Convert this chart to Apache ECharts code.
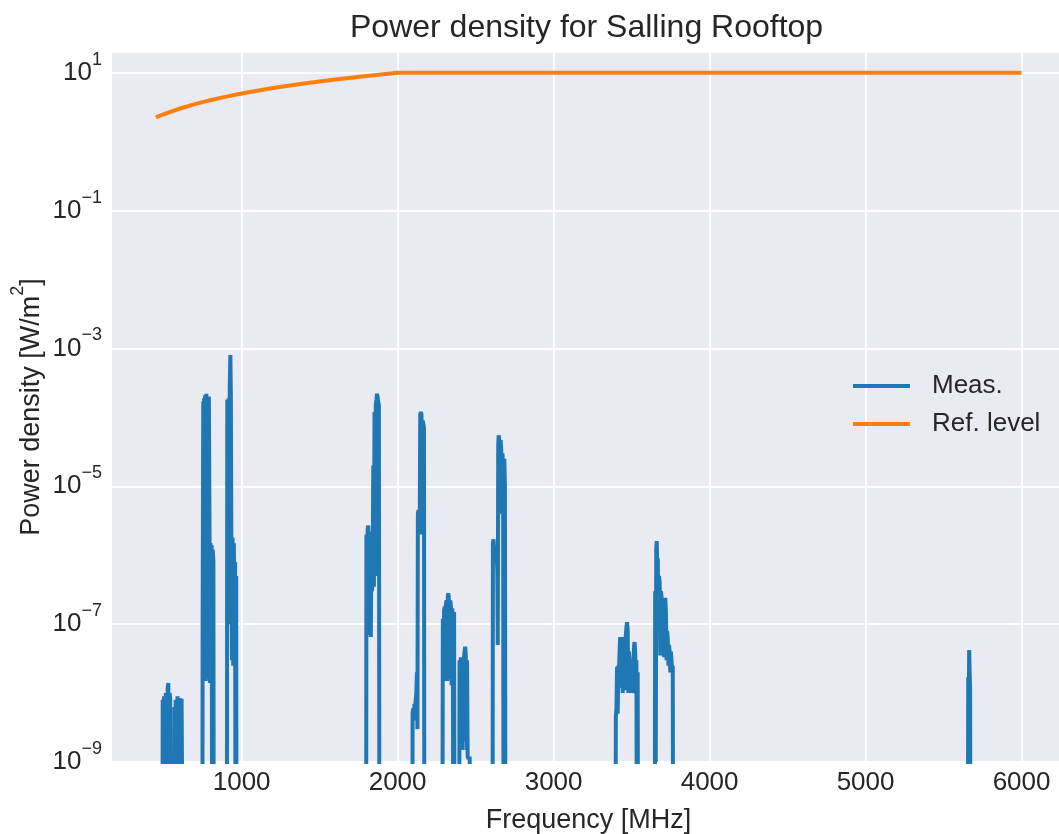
<!DOCTYPE html>
<html>
<head>
<meta charset="utf-8">
<script src="https://cdn.jsdelivr.net/npm/echarts@6/dist/echarts.min.js"></script>
<style>
html, body { margin: 0; padding: 0; background: #fff; }
#main { width: 1059px; height: 834px; }
</style>
</head>
<body>
<div id="main"></div>
<script>
// measured power density [MHz] -> [W/m2]; 1e-12 means below the plot floor
const measFreq = [
  450,
  492, 494, 498, 502, 506, 510, 514, 518, 522, 526, 530, 534, 538, 542, 545,
  566, 569, 573, 577, 581, 585, 589, 594, 598, 602, 607, 611, 615, 620, 624, 626,
  748, 750, 754, 757, 760, 763, 766, 770, 774, 778, 782, 786, 790, 794, 797, 800, 804, 808, 812, 815, 819, 822,
  905, 908, 912, 916, 920, 924, 928, 931, 934, 938, 942, 946, 950, 954, 958, 962, 965, 968,
  1798, 1800, 1804, 1808, 1812, 1816, 1820, 1824, 1828, 1832, 1836, 1840, 1844, 1848, 1852, 1856, 1860, 1864, 1868, 1872, 1876, 1880, 1884,
  2094, 2096, 2100, 2104, 2108, 2112, 2116, 2120, 2124, 2127, 2130, 2134, 2138, 2142, 2145, 2149, 2153, 2157, 2161, 2165, 2169, 2172,
  2286, 2290, 2294, 2298, 2302, 2306, 2310, 2314, 2318, 2322, 2326, 2330, 2334, 2338, 2342, 2346, 2350, 2354, 2358, 2362, 2366,
  2394, 2397, 2401, 2405, 2409, 2413, 2417, 2421, 2425, 2429, 2433, 2437, 2441, 2445, 2449, 2455, 2462, 2468,
  2608, 2611, 2615, 2619, 2623, 2627, 2631, 2635, 2639, 2642, 2645, 2648, 2652, 2656, 2660, 2664, 2668, 2672, 2676, 2680, 2684, 2688, 2692,
  3396, 3399, 3403, 3407, 3411, 3415, 3419, 3423, 3427, 3431, 3435, 3439, 3443, 3447, 3451, 3455, 3459, 3463, 3467, 3471, 3475, 3479, 3483, 3487, 3491, 3495, 3499, 3503, 3507, 3511, 3515, 3519, 3523, 3527, 3531, 3535, 3539, 3542,
  3648, 3651, 3655, 3658, 3661, 3664, 3668, 3672, 3676, 3680, 3684, 3688, 3692, 3696, 3700, 3704, 3708, 3712, 3716, 3720, 3724, 3728, 3732, 3736, 3740, 3744, 3748, 3752, 3756, 3760, 3764, 3767,
  5655, 5658, 5661, 5664, 5667, 5670, 5673,
  6000
]
const measVal = [
  1e-12,
  1e-12, 8e-9, 1e-12, 9e-9, 7e-9, 1e-12, 1e-8, 9e-9, 1e-12, 1.2e-8, 1.4e-8, 1e-12, 1e-8, 8.5e-9, 1e-12,
  1e-12, 6.3e-9, 1e-12, 8e-9, 7.5e-9, 1e-12, 9e-9, 9.3e-9, 1e-12, 8.5e-9, 8e-9, 1e-12, 8.3e-9, 7.8e-9, 8e-9, 1e-12,
  1e-12, 1e-7, 1.7e-4, 1e-6, 1.9e-4, 3e-7, 2.1e-4, 1.5e-8, 2.2e-4, 5e-6, 1.9e-4, 1.6e-8, 2e-4, 3e-6, 1.4e-8, 1.5e-6, 7e-7, 1.4e-6, 1e-12, 1.2e-6, 8e-7, 1e-12,
  1e-12, 1.8e-4, 2e-7, 1.9e-4, 1e-7, 3e-4, 8e-4, 2e-4, 2e-6, 3e-8, 1.8e-6, 2.5e-8, 1.5e-6, 2e-7, 8e-7, 1e-12, 5e-7, 1e-12,
  1e-12, 2e-6, 1e-7, 2.4e-6, 2.7e-6, 7e-8, 2.2e-6, 1.5e-6, 6.5e-8, 1.2e-6, 3e-7, 6e-7, 2e-5, 3.5e-7, 1.2e-4, 5e-7, 1.5e-4, 1.8e-4, 2.2e-4, 1.9e-4, 2e-4, 1.5e-4, 1e-12,
  1e-12, 5e-9, 6e-9, 4e-9, 7e-9, 6e-9, 8e-9, 1e-8, 2e-8, 3e-9, 4e-6, 4.5e-6, 2e-6, 3e-6, 1.1e-4, 1.2e-4, 1.1e-4, 2e-6, 9e-5, 8e-5, 7e-5, 1e-12,
  1e-12, 1.2e-7, 2e-8, 1.6e-7, 1.8e-7, 1.5e-8, 2e-7, 2.2e-7, 1.5e-8, 2.6e-7, 2.8e-7, 2e-7, 1.6e-8, 2.2e-7, 1.8e-7, 1.3e-8, 1.7e-7, 1.2e-7, 1e-12, 1.5e-7, 1e-12,
  1e-12, 3e-8, 2e-9, 3.3e-8, 3e-8, 1.5e-9, 3.2e-8, 2e-9, 3e-8, 4e-8, 4.7e-8, 3.5e-8, 1.5e-9, 3e-8, 1.2e-9, 1.1e-9, 1.2e-9, 1e-12,
  1e-12, 1.5e-6, 1.7e-6, 1.2e-6, 8e-7, 1.3e-6, 9e-7, 1.1e-6, 6e-7, 5e-8, 4e-5, 5.5e-5, 4.5e-5, 4e-6, 4.7e-5, 3.5e-5, 5e-6, 3e-5, 2e-5, 1e-12, 2.5e-5, 1e-5, 1e-12,
  1e-12, 4.5e-9, 6e-9, 2.4e-8, 5e-9, 2.5e-8, 2e-8, 4e-8, 6.5e-8, 1.2e-8, 6e-8, 5e-8, 1e-8, 4e-8, 6.5e-8, 1.1e-8, 5e-8, 7e-8, 9e-8, 1.07e-7, 8e-8, 1e-8, 4e-8, 3e-8, 1e-8, 2.5e-8, 1.2e-8, 3e-8, 1e-8, 2e-8, 4.5e-8, 5.5e-8, 4e-8, 1.5e-8, 3e-8, 1e-12, 2e-8, 1e-12,
  1e-12, 3e-7, 1e-9, 1.2e-6, 1.6e-6, 7e-7, 9e-7, 1e-7, 5e-7, 4e-7, 3.5e-8, 3e-7, 2.5e-7, 4e-8, 2.2e-7, 1.8e-7, 3.3e-8, 2.2e-7, 2.4e-7, 1.5e-7, 3e-8, 8e-8, 6e-8, 2.5e-8, 5e-8, 4e-8, 2e-8, 4e-8, 3e-8, 2e-8, 2.5e-8, 1e-12,
  1e-12, 1.7e-8, 3e-9, 4.2e-8, 2e-8, 1.2e-8, 1e-12,
  1e-12
]

// reference level [MHz] -> [W/m2]
const refFreq = [450, 500, 600, 700, 800, 900, 1000, 1200, 1400, 1600, 1800, 2000, 6000]
const refVal = [2.25, 2.5, 3, 3.5, 4, 4.5, 5, 6, 7, 8, 9, 10, 10]

const xTicks = [1000, 2000, 3000, 4000, 5000, 6000]

const textColor = '#262626'
const font = 'Liberation Sans, Arial, sans-serif'

// base text and raised exponent: both tokens get the same total height so the
// exponent sits ~13px above the digits whatever the token alignment is
const richBase = { fontSize: 26, lineHeight: 26, padding: [9, 0, 9, 0], color: textColor, fontFamily: font }
const richSup = { fontSize: 18, lineHeight: 18, padding: [0, 0, 26, 0], color: textColor, fontFamily: font }

var myChart = echarts.init(document.getElementById('main'))

var option = {
  backgroundColor: '#ffffff',
  textStyle: { fontFamily: font },
  title: {
    text: 'Power density for Salling Rooftop',
    left: 350,
    top: 12,
    padding: 0,
    textStyle: { fontSize: 32, fontWeight: 'normal', color: textColor, fontFamily: font }
  },
  grid: {
    left: 112,
    right: 0,
    top: 52,
    bottom: 72,
    containLabel: false,
    outerBoundsMode: 'none',
    show: true,
    backgroundColor: '#EAEAF2',
    borderWidth: 0
  },
  legend: {
    orient: 'vertical',
    left: 853,
    top: 371,
    padding: 0,
    itemWidth: 57,
    itemHeight: 4,
    itemGap: 8,
    icon: 'rect',
    textStyle: { fontSize: 26, color: textColor, fontFamily: font, lineHeight: 30, padding: [0, 0, 0, 17] },
    data: ['Meas.', 'Ref. level']
  },
  xAxis: {
    type: 'value',
    min: 169,
    max: 6240,
    name: 'Frequency [MHz]',
    nameLocation: 'middle',
    nameGap: 45,
    nameMoveOverlap: false,
    nameTextStyle: { fontSize: 27, color: textColor, fontFamily: font, padding: [0, 0, 0, 6] },
    axisLine: { show: false },
    axisTick: { show: false, customValues: xTicks },
    axisLabel: {
      customValues: xTicks,
      fontSize: 26,
      color: textColor,
      margin: 8,
      fontFamily: font,
      formatter: function(v) { return String(v) }
    },
    splitLine: { show: true, lineStyle: { color: '#ffffff', width: 2 } }
  },
  yAxis: {
    type: 'log',
    logBase: 10,
    min: 1e-9,
    max: 20,
    interval: 2,
    name: '{b|Power density [W/m}{s|2}{b|]}',
    nameLocation: 'middle',
    nameGap: 67,
    nameMoveOverlap: false,
    nameTextStyle: {
      fontSize: 27,
      color: textColor,
      fontFamily: font,
      rich: {
        b: Object.assign({}, richBase, { fontSize: 27, lineHeight: 27 }),
        s: richSup
      }
    },
    axisLine: { show: false },
    axisTick: { show: false },
    axisLabel: {
      margin: 10,
      color: textColor,
      formatter: function(v) {
        var e = Math.log10(v)
        var r = Math.round(e)
        if (Math.abs(e - r) > 1e-6) return ''
        return '{b|10}{s|' + (r < 0 ? '\u2212' + (-r) : r) + '}'
      },
      rich: { b: richBase, s: richSup }
    },
    splitLine: { show: true, lineStyle: { color: '#ffffff', width: 2 } }
  },
  series: [
    {
      name: 'Meas.',
      type: 'line',
      data: measFreq.map((f, i) => [f, measVal[i]]),
      symbol: 'none',
      color: '#1f77b4',
      lineStyle: { width: 4, color: '#1f77b4' },
      clip: true,
      animation: false
    },
    {
      name: 'Ref. level',
      type: 'line',
      data: refFreq.map((f, i) => [f, refVal[i]]),
      symbol: 'none',
      color: '#ff7f0e',
      lineStyle: { width: 4, color: '#ff7f0e' },
      clip: true,
      animation: false
    }
  ]
}

myChart.setOption(option)
</script>
</body>
</html>
